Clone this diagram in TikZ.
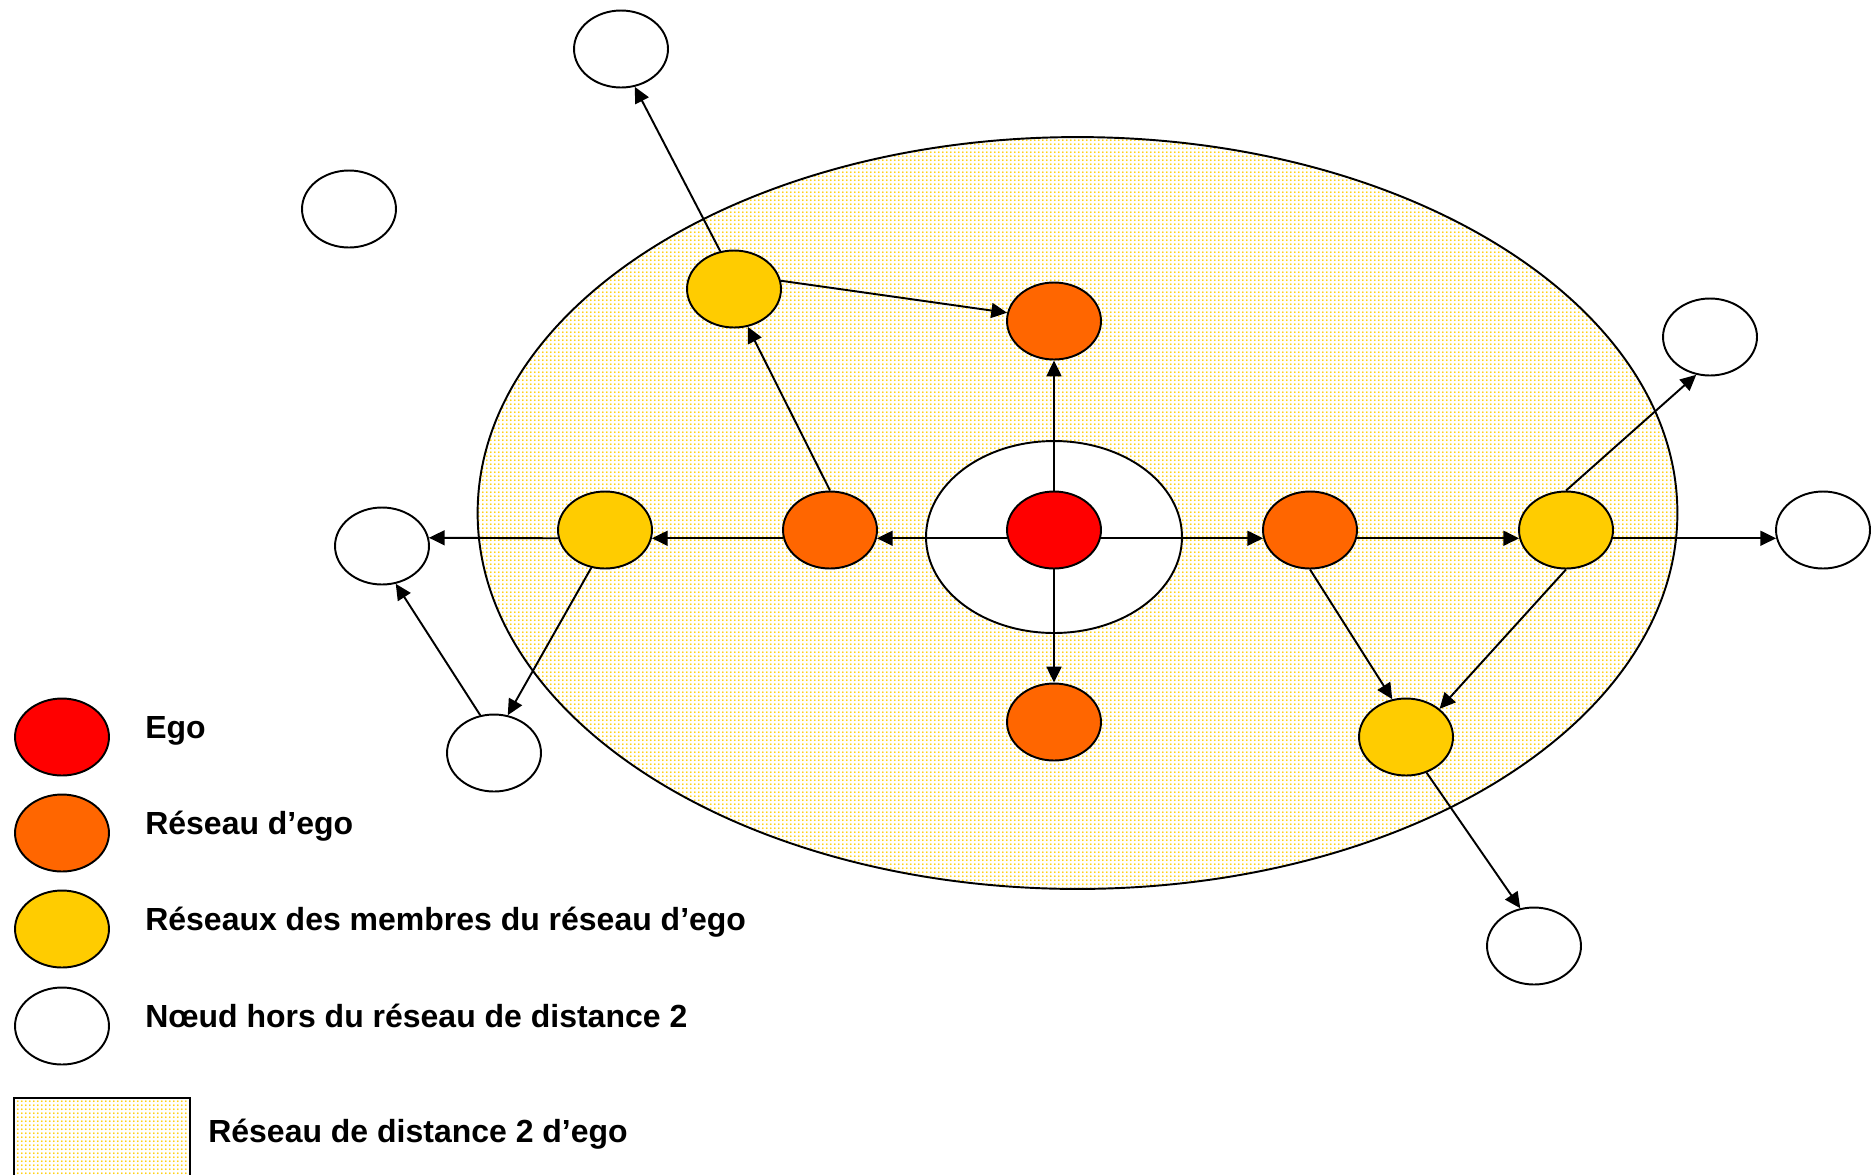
\documentclass[tikz,border=0pt]{standalone}
\usepackage{fontspec}
\setmainfont{Liberation Sans}
\usetikzlibrary{shapes.geometric,arrows.meta,patterns.meta}
\definecolor{egored}{HTML}{FF0000}
\definecolor{resorange}{HTML}{FF6600}
\definecolor{memyellow}{HTML}{FFCC00}
\definecolor{dotyellow}{HTML}{FFCC00}
\tikzdeclarepattern{
  name=netdots,
  type=uncolored,
  bounding box={(0pt,0pt) and (2.45pt,2.45pt)},
  tile size={(2.45pt,2.45pt)},
  code={\pgfpathcircle{\pgfpoint{1.2pt}{1.2pt}}{0.62pt}\pgfusepath{fill}}
}

\begin{document}
\begin{tikzpicture}[x=0.02cm, y=-0.02cm,
  pers/.style={ellipse, draw, line width=1.1pt, minimum width=1.88cm, minimum height=1.54cm, inner sep=0pt},
  egofill/.style={pers, fill=egored},
  resfill/.style={pers, fill=resorange},
  memfill/.style={pers, fill=memyellow},
  horsfill/.style={pers, fill=white},
  zone/.style={line width=1.1pt, pattern=netdots, pattern color=dotyellow},
  lien/.style={line width=1.1pt, -{Triangle[length=9pt,width=8.5pt]}},
  lgtext/.style={anchor=base west, inner sep=0pt, font=\bfseries\fontsize{18.2}{22}\selectfont}]
\useasboundingbox (0,0) rectangle (1872,1174);

\draw[zone] (1077.5,513) ellipse [x radius=12cm, y radius=7.52cm];
\draw[line width=1.1pt, fill=white] (1054,537) ellipse [x radius=2.56cm, y radius=1.92cm];

\node[egofill] (ego) at (1054,530) {};
\node[resfill] (oT) at (1054,321) {};
\node[resfill] (oB) at (1054,722) {};
\node[resfill] (oL) at (830,530) {};
\node[resfill] (oR) at (1310,530) {};
\node[memfill] (yTL) at (734,289) {};
\node[memfill] (yL) at (605,530) {};
\node[memfill] (yR) at (1566,530) {};
\node[memfill] (yBR) at (1406,737) {};
\node[horsfill] (wT) at (621,49) {};
\node[horsfill] (wIso) at (349,209) {};
\node[horsfill] (wL) at (382,546) {};
\node[horsfill] (wBL) at (494,753) {};
\node[horsfill] (wRT) at (1710,337) {};
\node[horsfill] (wR) at (1823,530) {};
\node[horsfill] (wBR) at (1534,946) {};

\draw[lien] (ego.190) -- (oL.350);
\draw[lien] (ego.350) -- (oR.190);
\draw[lien] (ego.north) -- (oT.south);
\draw[lien] (ego.south) -- (oB.north);
\draw[lien] (oL.190) -- (yL.350);
\draw[lien] (yL.190) -- (wL.10);
\draw[lien] (oR.350) -- (yR.190);
\draw[lien] (yR.350) -- (wR.190);
\draw[lien] (oL.north) -- (yTL.290);
\draw[lien] (yTL.10) -- (oT.170);
\draw[lien] (yTL.110) -- (wT.290);
\draw[lien] (yL.250) -- (wBL.70);
\draw[lien] (wBL.110) -- (wL.290);
\draw[lien] (oR.south) -- (yBR.110);
\draw[lien] (yR.south) -- (yBR.40);
\draw[lien] (yR.north) -- (wRT.250);
\draw[lien] (yBR.300) -- (wBR.110);

\node[egofill] (lgEgo) at (62,737) {};
\node[resfill] (lgRes) at (62,833) {};
\node[memfill] (lgMem) at (62,929) {};
\node[horsfill] (lgHors) at (62,1026) {};
\draw[zone] (14,1098) rectangle (190,1200);

\node[lgtext] (tEgo) at (145,738) {Ego};
\node[lgtext] (tRes) at (145,834) {Réseau d’ego};
\node[lgtext] (tMem) at (145,930) {Réseaux des membres du réseau d’ego};
\node[lgtext] (tHors) at (145,1027) {Nœud hors du réseau de distance 2};
\node[lgtext] (tZone) at (208,1142) {Réseau de distance 2 d’ego};
\end{tikzpicture}
\end{document}
